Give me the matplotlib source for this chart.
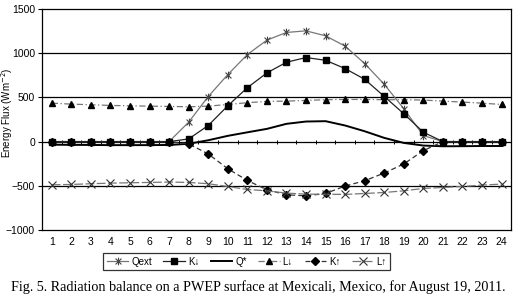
import numpy as np
import matplotlib
matplotlib.use("Agg")
import matplotlib.pyplot as plt
from matplotlib.path import Path

# Hourly radiation components, Mexicali, August 19 2011 (W m-2)
hours = np.arange(1, 25)
qext = [0, 0, 0, 0, 0, 0, 0, 220, 510, 758, 985, 1148, 1235, 1253,
        1197, 1080, 883, 648, 372, 68, 0, 0, 0, 0]
k_down = [0, 0, 0, 0, 0, 0, 0, 30, 182, 405, 610, 777, 898, 951,
          920, 826, 705, 511, 315, 106, 0, 0, 0, 0]
q_star = [-35, -37, -38, -40, -40, -40, -38, -25, 15, 65, 105, 144, 201, 227,
          231, 182, 117, 42, -15, -45, -53, -52, -50, -50]
l_down = [435, 424, 417, 409, 405, 401, 398, 394, 401, 420, 440, 455, 458, 466,
          474, 477, 477, 474, 474, 470, 458, 447, 435, 420]
k_up = [0, 0, 0, 0, 0, 0, 0, -26, -140, -307, -440, -545, -602, -614,
        -587, -503, -443, -356, -253, -102, 0, 0, 0, 0]
l_up = [-489, -485, -477, -470, -466, -462, -458, -462, -477, -508, -542, -557,
        -583, -595, -595, -598, -587, -576, -557, -530, -519, -508, -492, -481]

plt.rcParams['font.family'] = ['Liberation Sans', 'DejaVu Sans']

# asterisk marker: X plus a vertical bar
star = Path([(-1, -1), (1, 1), (-1, 1), (1, -1), (0, -1.3), (0, 1.3)],
            [Path.MOVETO, Path.LINETO, Path.MOVETO, Path.LINETO, Path.MOVETO, Path.LINETO])

fig = plt.figure(figsize=(5.16, 3.01), dpi=100)
ax = fig.add_axes([0.0814, 0.236, 0.9096, 0.734])

for y in (-500, 500, 1000):
    ax.axhline(y, color='black', lw=0.9, zorder=1)
ax.axhline(0, color='black', lw=0.9, zorder=1)
ax.vlines(np.arange(0.5, 25.5, 1), -22, 22, color='black', lw=0.7, zorder=1)

ax.plot(hours, qext, color='#777777', lw=0.9, marker=star, ms=5.5, mec='#444444',
        mew=0.8, label='Qext', zorder=3)
ax.plot(hours, k_down, color='#222222', lw=0.9, marker='s', ms=5, mfc='black',
        mec='black', label='K\u2193', zorder=4)
ax.plot(hours, q_star, color='black', lw=1.4, label='Q*', zorder=3)
ax.plot(hours, l_down, color='#777777', lw=0.9, ls=(0, (5, 2, 1, 2)), marker='^',
        ms=4, mfc='black', mec='black', label='L\u2193', zorder=3)
ax.plot(hours, k_up, color='#333333', lw=0.9, ls=(0, (4, 2.5)), marker='D',
        ms=4, mfc='black', mec='black', label='K\u2191', zorder=3)
ax.plot(hours, l_up, color='#777777', lw=0.9, ls=(0, (7, 2)), marker='x',
        ms=5.5, mec='#333333', mew=0.8, label='L\u2191', zorder=3)

ax.set_xlim(0.5, 24.5)
ax.set_ylim(-1000, 1500)
ax.set_xticks(hours)
ax.set_yticks([-1000, -500, 0, 500, 1000, 1500])
ax.set_yticklabels(['\u22121000', '\u2212500', '0', '500', '1000', '1500'])
ax.tick_params(axis='x', length=0, labelsize=7.5, pad=5)
ax.tick_params(axis='y', length=3, labelsize=7.5, pad=2)
for s in ax.spines.values():
    s.set_linewidth(0.9)
ax.set_ylabel('Energy Flux (Wm$^{-2}$)', fontsize=7)
ax.yaxis.set_label_coords(-0.058, 0.53)

leg = fig.legend(loc='center', bbox_to_anchor=(0.478, 0.131), ncol=6,
                 fontsize=7, frameon=True, fancybox=False, handlelength=2.2,
                 handletextpad=0.3, columnspacing=1.2, borderpad=0.35)
leg.get_frame().set_edgecolor('black')
leg.get_frame().set_linewidth(0.9)

fig.text(0.5, 0.045, 'Fig. 5. Radiation balance on a PWEP surface at Mexicali, Mexico, for August 19, 2011.',
         ha='center', va='center', fontsize=10.2, family='Liberation Serif')

fig.savefig('out.png', dpi=100)
